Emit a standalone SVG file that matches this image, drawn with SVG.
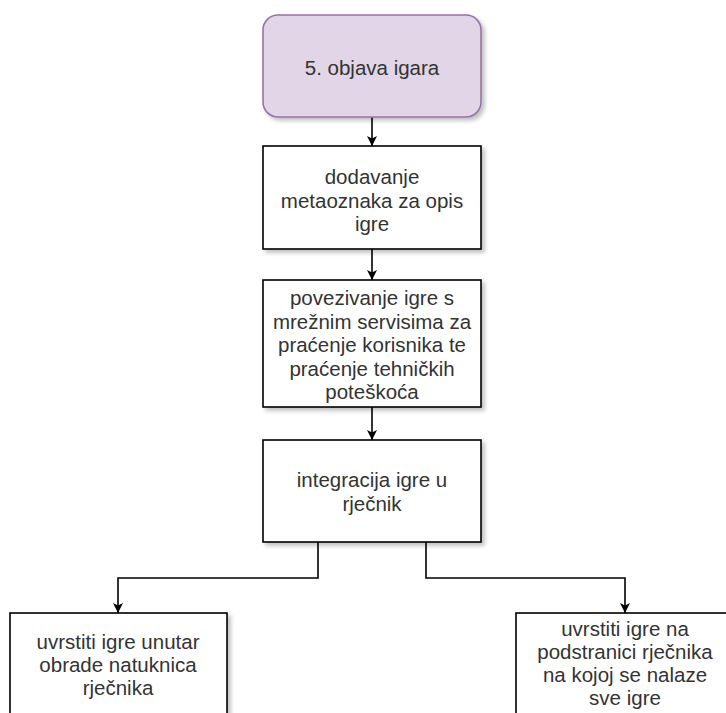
<svg xmlns="http://www.w3.org/2000/svg" width="726" height="713" viewBox="0 0 726 713">
<style>
.box{fill:#ffffff;stroke:#000000;stroke-width:1.6;filter:url(#sh)}
.start{fill:#e1d5e7;stroke:#9673a6;stroke-width:1.6;filter:url(#sh)}
.t{font-family:"Liberation Sans",Arial,sans-serif;font-size:20.5px;fill:#333333;text-anchor:middle}
.c{fill:none;stroke:#000000;stroke-width:1.6}
</style>
<defs>
<filter id="sh" x="-10%" y="-10%" width="130%" height="130%">
<feGaussianBlur in="SourceAlpha" stdDeviation="2"/>
<feOffset dx="3" dy="3" result="b"/>
<feComponentTransfer><feFuncA type="linear" slope="0.25"/></feComponentTransfer>
<feMerge><feMergeNode/><feMergeNode in="SourceGraphic"/></feMerge>
</filter>
<marker id="ar" viewBox="0 0 10 10" refX="10" refY="5" markerWidth="10" markerHeight="10" markerUnits="userSpaceOnUse" orient="auto">
<path d="M0,0 L10,5 L0,10 L2.5,5 Z" fill="#000000"/>
</marker>
</defs>
<g id="connectors">
<path class="c" d="M372,117 V146" marker-end="url(#ar)"/>
<path class="c" d="M372,249 V280" marker-end="url(#ar)"/>
<path class="c" d="M372,407 V440" marker-end="url(#ar)"/>
<path class="c" d="M318,542 V578 H118 V613" marker-end="url(#ar)"/>
<path class="c" d="M426,542 V578 H625 V613" marker-end="url(#ar)"/>
</g>
<g id="n1">
<rect class="start" x="263" y="15" width="218" height="102" rx="15"/>
<text class="t" x="372" y="75">5. objava igara</text>
</g>
<g id="n2">
<rect class="box" x="263" y="146" width="218" height="103"/>
<text class="t" x="372" y="184">dodavanje</text>
<text class="t" x="372" y="207.5">metaoznaka za opis</text>
<text class="t" x="372" y="231">igre</text>
</g>
<g id="n3">
<rect class="box" x="263" y="280" width="218" height="127"/>
<text class="t" x="372" y="305">povezivanje igre s</text>
<text class="t" x="372" y="328.5">mrežnim servisima za</text>
<text class="t" x="372" y="352">praćenje korisnika te</text>
<text class="t" x="372" y="375.5">praćenje tehničkih</text>
<text class="t" x="372" y="399">poteškoća</text>
</g>
<g id="n4">
<rect class="box" x="263" y="440" width="218" height="102"/>
<text class="t" x="372" y="487">integracija igre u</text>
<text class="t" x="372" y="511">rječnik</text>
</g>
<g id="n5">
<rect class="box" x="10" y="613" width="217" height="130"/>
<text class="t" x="118" y="649">uvrstiti igre unutar</text>
<text class="t" x="118" y="672">obrade natuknica</text>
<text class="t" x="118" y="695">rječnika</text>
</g>
<g id="n6">
<rect class="box" x="516" y="613" width="218" height="130"/>
<text class="t" x="625" y="636">uvrstiti igre na</text>
<text class="t" x="625" y="659">podstranici rječnika</text>
<text class="t" x="625" y="682">na kojoj se nalaze</text>
<text class="t" x="625" y="705">sve igre</text>
</g>
</svg>
